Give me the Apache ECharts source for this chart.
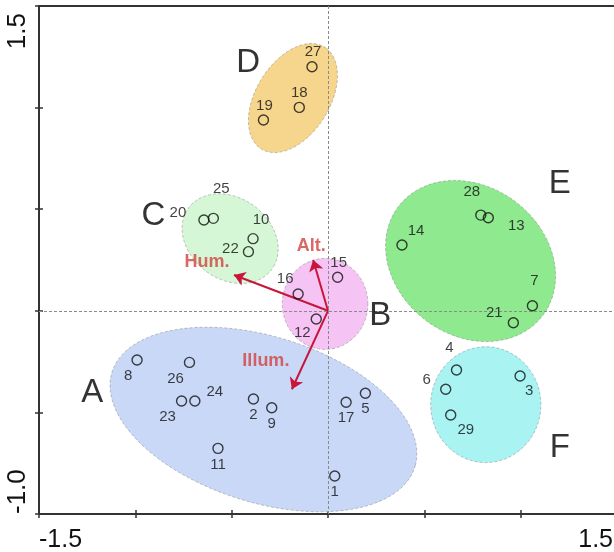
<!DOCTYPE html>
<html><head><meta charset="utf-8">
<script src="https://cdn.jsdelivr.net/npm/echarts@6/dist/echarts.min.js"></script>
<style>html,body{margin:0;padding:0;background:#fff}#c{width:614px;height:552px}</style>
</head><body><div id="c"></div>
<script>
// ---- data ----
const pointIds = ['1','2','3','4','5','6','7','8','9','10','11','12','13','14','15','16','17','18','19','20','21','22','23','24','25','26','27','28','29'];
const pointX = [0.035,-0.387,0.997,0.667,0.194,0.611,1.061,-0.991,-0.292,-0.389,-0.571,-0.061,0.832,0.384,0.050,-0.155,0.094,-0.149,-0.335,-0.644,0.962,-0.413,-0.760,-0.691,-0.595,-0.719,-0.083,0.793,0.637];
const pointY = [-0.813,-0.434,-0.321,-0.291,-0.406,-0.386,0.025,-0.242,-0.477,0.355,-0.677,-0.040,0.458,0.324,0.165,0.083,-0.450,1.001,0.939,0.447,-0.059,0.291,-0.444,-0.444,0.455,-0.254,1.201,0.471,-0.513];

const groupNames = ['A','B','C','D','E','F'];
const groupCenterX = [-0.335,-0.015,-0.508,-0.182,0.740,0.819];
const groupCenterY = [-0.535,0.034,0.355,1.047,0.245,-0.462];
const groupRadiusX = [0.82,0.222,0.264,0.300,0.462,0.286];
const groupRadiusY = [0.41,0.224,0.203,0.188,0.372,0.285];
const groupAngle = [-16,0,-31,55,-30,0];
const groupLabelX = [-1.224,0.271,-0.906,-0.414,1.203,1.203];
const groupLabelY = [-0.405,-0.026,0.469,1.218,0.624,-0.673];

const vectorNames = ['Hum.','Alt.','Illum.'];
const vectorX = [-0.488,-0.077,-0.1875];
const vectorY = [0.176,0.250,-0.386];

const xTickLabels = ['-1.5','1.5'];
const yTickLabels = ['-1.0','1.5'];

// ---- styles ----
const FONT = 'Liberation Sans, Arial, sans-serif';
const groupColors = ['#c9d8f7','#f6c4f4','#d6f7d6','#f6d68c','#8fe98f','#a9f3f3'];
const pointLabelOffset = {
 '1':[0,16],'2':[0,16],'3':[9,15],'4':[-7,-22],'5':[0,16],'6':[-19,-9],'7':[2,-25],'8':[-9,16],
 '9':[0,16],'10':[8,-19],'11':[0,16],'12':[-14,14],'13':[28,8],'14':[14,-14],'15':[1,-14],
 '16':[-13,-15],'17':[0,16],'18':[0,-15],'19':[1,-14],'20':[-26,-7],'21':[-19,-10],'22':[-18,-3],
 '23':[-14,16],'24':[20,-9],'25':[8,-29],'26':[-14,16],'27':[1,-15],'28':[-9,-23],'29':[15,15]
};
const vectorLabelOffset = [[-27,-13],[-2,-14],[-26,-28]];

const chart = echarts.init(document.getElementById('c'), null, {renderer:'canvas'});

const ellipseData = groupNames.map((g,i)=>[groupCenterX[i],groupCenterY[i],groupRadiusX[i],groupRadiusY[i],groupAngle[i],i]);
const pointData = pointIds.map((id,i)=>({
  value:[pointX[i],pointY[i]], name:id,
  label:{offset:pointLabelOffset[id]}
}));
const letterData = groupNames.map((g,i)=>({value:[groupLabelX[i],groupLabelY[i]], name:g}));
const arrowData = vectorNames.map((n,i)=>({coords:[[0,0],[vectorX[i],vectorY[i]]]}));
const arrowLabelData = vectorNames.map((n,i)=>({value:[vectorX[i],vectorY[i]], name:n, label:{offset:vectorLabelOffset[i]}}));

function axisBase(extra){
  return Object.assign({
    type:'value', interval:0.5, splitLine:{show:false},
    axisLine:{show:true, onZero:false, lineStyle:{color:'#333', width:2}},
    axisTick:{show:true, length:4, lineStyle:{color:'#333', width:1.5}},
  }, extra);
}

const option = {
  backgroundColor:'#fff',
  animation:false,
  grid:{left:39, top:6, width:578, height:508, outerBoundsMode:'none', containLabel:false,
    show:true, borderColor:'#333', borderWidth:2, backgroundColor:'transparent'},
  xAxis:[
    axisBase({min:-1.5,max:1.5,position:'bottom',
      axisLabel:{show:true, showMinLabel:true, showMaxLabel:true, margin:14, fontSize:25, fontFamily:FONT, color:'#111',
        alignMinLabel:'left', alignMaxLabel:'right',
        rich:{end:{fontSize:25, fontFamily:FONT, color:'#111', padding:[0,4,0,0]}},
        formatter:v=>{const s=v.toFixed(1); if(xTickLabels.indexOf(s)<0) return ''; return v>0 ? '{end|'+s+'}' : s;}}}),
    axisBase({min:-1.5,max:1.5,position:'bottom',axisLine:{show:false,onZero:false},axisLabel:{show:false},
      axisTick:{show:true,inside:true,length:4,lineStyle:{color:'#333',width:1.5}}})
  ],
  yAxis:[
    axisBase({min:-1,max:1.5,position:'left',
      axisLabel:{show:true, showMinLabel:true, showMaxLabel:true, margin:8, rotate:90, fontSize:26, fontFamily:FONT, color:'#111',
        alignMinLabel:'left', alignMaxLabel:'right',
        rich:{top:{fontSize:26, fontFamily:FONT, color:'#111', padding:[0,7,0,0]}},
        formatter:v=>{const s=v.toFixed(1); if(yTickLabels.indexOf(s)<0) return ''; return v>0 ? '{top|'+s+'}' : s;}}}),
    axisBase({min:-1,max:1.5,position:'left',axisLine:{show:false,onZero:false},axisLabel:{show:false},
      axisTick:{show:true,inside:true,length:4,lineStyle:{color:'#333',width:1.5}}})
  ],
  series:[
    {
      type:'custom', coordinateSystem:'cartesian2d', data:ellipseData, z:1,
      encode:{x:0,y:1}, clip:false,
      renderItem:function(params, api){
        const cx=api.value(0), cy=api.value(1), rx=api.value(2), ry=api.value(3), ang=api.value(4)*Math.PI/180;
        const idx=api.value(5);
        const pts=[];
        const N=120;
        for(let k=0;k<N;k++){
          const t=k/N*Math.PI*2;
          const ex=rx*Math.cos(t), ey=ry*Math.sin(t);
          const x=cx+ex*Math.cos(ang)-ey*Math.sin(ang);
          const y=cy+ex*Math.sin(ang)+ey*Math.cos(ang);
          pts.push(api.coord([x,y]));
        }
        return {type:'polygon', shape:{points:pts}, style:{fill:groupColors[idx], stroke:'rgba(120,120,120,0.55)', lineWidth:0.8, lineDash:[3,2]}};
      }
    },
    {
      type:'scatter', data:[[0,0]], symbolSize:0, z:2, silent:true,
      markLine:{silent:true, symbol:['none','none'], label:{show:false},
        lineStyle:{color:'#8a8a8a', type:[3,2], width:1},
        data:[{xAxis:0},{yAxis:0}]}
    },
    {
      type:'lines', coordinateSystem:'cartesian2d', data:arrowData, z:3,
      symbol:['none','arrow'], symbolSize:[0,11],
      lineStyle:{color:'#c8153a', width:2, opacity:1}
    },
    {
      type:'scatter', data:arrowLabelData, symbolSize:0, z:4, silent:true,
      label:{show:true, position:'inside', formatter:p=>p.name, fontFamily:FONT, fontSize:18, fontWeight:'bold', color:'#d2423f'}
    },
    {
      type:'scatter', data:pointData, symbol:'circle', symbolSize:10, z:5,
      itemStyle:{color:'rgba(0,0,0,0)', borderColor:'#111', borderWidth:1.4},
      label:{show:true, position:'inside', formatter:p=>p.name, fontFamily:FONT, fontSize:15, color:'#111'}
    },
    {
      type:'scatter', data:letterData, symbolSize:0, z:5, silent:true,
      label:{show:true, position:'inside', formatter:p=>p.name, fontFamily:FONT, fontSize:33, color:'#000'}
    }
  ]
};
chart.setOption(option);
</script></body></html>
